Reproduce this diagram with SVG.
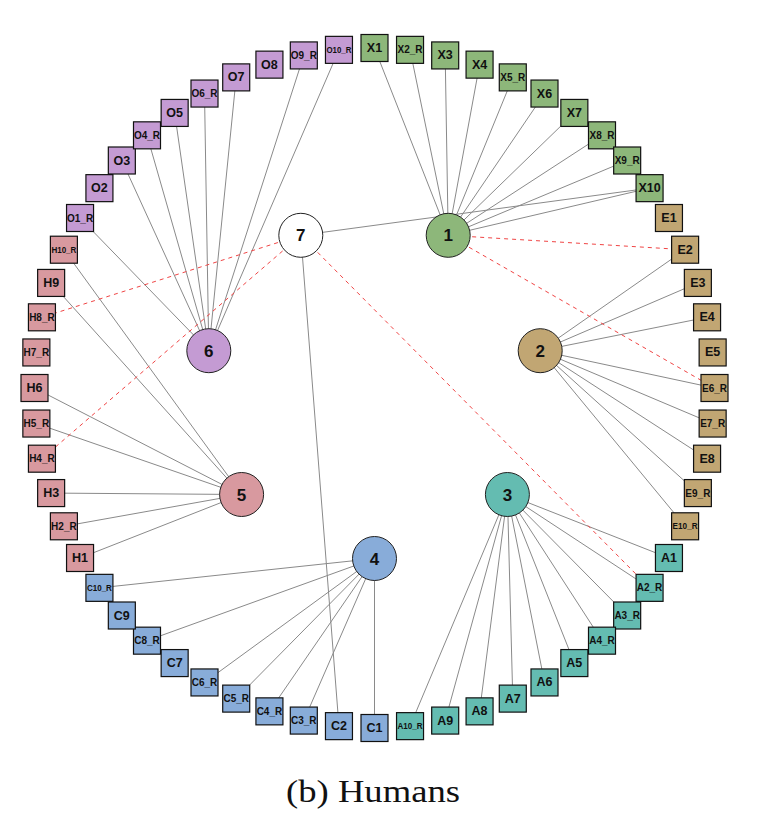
<svg xmlns="http://www.w3.org/2000/svg" width="758" height="818" viewBox="0 0 758 818">
<style>
.bg{fill:#ffffff}
.e{stroke:#8a8a8a;stroke-width:1;fill:none}
.d{stroke:#f04545;stroke-width:1;stroke-dasharray:4 4;fill:none}
.sq{stroke:#111;stroke-width:1.2}
.hub{stroke:#222;stroke-width:1}
.gX{fill:#8db77a}.gE{fill:#c1a673}.gA{fill:#64bcb1}.gC{fill:#88acd9}.gH{fill:#d8999f}.gO{fill:#c49bd3}.gW{fill:#ffffff}
text{font-family:"Liberation Sans",Arial,sans-serif;font-weight:bold;fill:#111;text-anchor:middle;dominant-baseline:central}
.s{font-size:12.5px}.r{font-size:10px}.rr{font-size:9px}.h{font-size:17px}
.cap{font-family:"Liberation Serif","Times New Roman",serif;font-weight:normal;font-size:31px;dominant-baseline:alphabetic}
</style>
<rect class="bg" x="0" y="0" width="758" height="818"/>
<g id="connectors">
<line class="e" x1="448.2" y1="235.3" x2="374.5" y2="48"/>
<line class="e" x1="448.2" y1="235.3" x2="410.04" y2="49.86"/>
<line class="e" x1="448.2" y1="235.3" x2="445.19" y2="55.43"/>
<line class="e" x1="448.2" y1="235.3" x2="479.57" y2="64.64"/>
<line class="e" x1="448.2" y1="235.3" x2="512.79" y2="77.39"/>
<line class="e" x1="448.2" y1="235.3" x2="544.5" y2="93.55"/>
<line class="e" x1="448.2" y1="235.3" x2="574.35" y2="112.93"/>
<line class="e" x1="448.2" y1="235.3" x2="602" y2="135.33"/>
<line class="e" x1="448.2" y1="235.3" x2="627.17" y2="160.5"/>
<line class="e" x1="448.2" y1="235.3" x2="649.57" y2="188.15"/>
<line class="e" x1="540.2" y1="350.7" x2="685.11" y2="249.71"/>
<line class="e" x1="540.2" y1="350.7" x2="697.86" y2="282.93"/>
<line class="e" x1="540.2" y1="350.7" x2="707.07" y2="317.31"/>
<line class="e" x1="540.2" y1="350.7" x2="714.5" y2="388"/>
<line class="e" x1="540.2" y1="350.7" x2="712.64" y2="423.54"/>
<line class="e" x1="540.2" y1="350.7" x2="707.07" y2="458.69"/>
<line class="e" x1="540.2" y1="350.7" x2="697.86" y2="493.07"/>
<line class="e" x1="540.2" y1="350.7" x2="685.11" y2="526.29"/>
<line class="e" x1="507.4" y1="494.5" x2="668.95" y2="558"/>
<line class="e" x1="507.4" y1="494.5" x2="649.57" y2="587.85"/>
<line class="e" x1="507.4" y1="494.5" x2="627.17" y2="615.5"/>
<line class="e" x1="507.4" y1="494.5" x2="602" y2="640.67"/>
<line class="e" x1="507.4" y1="494.5" x2="574.35" y2="663.07"/>
<line class="e" x1="507.4" y1="494.5" x2="544.5" y2="682.45"/>
<line class="e" x1="507.4" y1="494.5" x2="512.79" y2="698.61"/>
<line class="e" x1="507.4" y1="494.5" x2="479.57" y2="711.36"/>
<line class="e" x1="507.4" y1="494.5" x2="445.19" y2="720.57"/>
<line class="e" x1="507.4" y1="494.5" x2="410.04" y2="726.14"/>
<line class="e" x1="374.5" y1="558.5" x2="374.5" y2="728"/>
<line class="e" x1="374.5" y1="558.5" x2="303.81" y2="720.57"/>
<line class="e" x1="374.5" y1="558.5" x2="269.43" y2="711.36"/>
<line class="e" x1="374.5" y1="558.5" x2="236.21" y2="698.61"/>
<line class="e" x1="374.5" y1="558.5" x2="204.5" y2="682.45"/>
<line class="e" x1="374.5" y1="558.5" x2="147" y2="640.67"/>
<line class="e" x1="374.5" y1="558.5" x2="99.43" y2="587.85"/>
<line class="e" x1="241.6" y1="494.5" x2="80.05" y2="558"/>
<line class="e" x1="241.6" y1="494.5" x2="63.89" y2="526.29"/>
<line class="e" x1="241.6" y1="494.5" x2="51.14" y2="493.07"/>
<line class="e" x1="241.6" y1="494.5" x2="36.36" y2="423.54"/>
<line class="e" x1="241.6" y1="494.5" x2="34.5" y2="388"/>
<line class="e" x1="241.6" y1="494.5" x2="51.14" y2="282.93"/>
<line class="e" x1="241.6" y1="494.5" x2="63.89" y2="249.71"/>
<line class="e" x1="208.8" y1="350.7" x2="80.05" y2="218"/>
<line class="e" x1="208.8" y1="350.7" x2="121.83" y2="160.5"/>
<line class="e" x1="208.8" y1="350.7" x2="147" y2="135.33"/>
<line class="e" x1="208.8" y1="350.7" x2="174.65" y2="112.93"/>
<line class="e" x1="208.8" y1="350.7" x2="204.5" y2="93.55"/>
<line class="e" x1="208.8" y1="350.7" x2="236.21" y2="77.39"/>
<line class="e" x1="208.8" y1="350.7" x2="303.81" y2="55.43"/>
<line class="e" x1="208.8" y1="350.7" x2="338.96" y2="49.86"/>
<line class="e" x1="300.8" y1="235.3" x2="649.57" y2="188.15"/>
<line class="e" x1="300.8" y1="235.3" x2="338.96" y2="726.14"/>
<line class="d" x1="448.2" y1="235.3" x2="685.11" y2="249.71"/>
<line class="d" x1="448.2" y1="235.3" x2="714.5" y2="388"/>
<line class="d" x1="300.8" y1="235.3" x2="649.57" y2="587.85"/>
<line class="d" x1="300.8" y1="235.3" x2="41.93" y2="317.31"/>
<line class="d" x1="300.8" y1="235.3" x2="41.93" y2="458.69"/>
</g>
<g id="n-X1"><rect class="sq gX" x="361" y="34.5" width="27" height="27"/><text class="s" x="374.5" y="48">X1</text></g>
<g id="n-X2_R"><rect class="sq gX" x="396.54" y="36.36" width="27" height="27"/><text class="r" x="410.04" y="49.86">X2_R</text></g>
<g id="n-X3"><rect class="sq gX" x="431.69" y="41.93" width="27" height="27"/><text class="s" x="445.19" y="55.43">X3</text></g>
<g id="n-X4"><rect class="sq gX" x="466.07" y="51.14" width="27" height="27"/><text class="s" x="479.57" y="64.64">X4</text></g>
<g id="n-X5_R"><rect class="sq gX" x="499.29" y="63.89" width="27" height="27"/><text class="r" x="512.79" y="77.39">X5_R</text></g>
<g id="n-X6"><rect class="sq gX" x="531" y="80.05" width="27" height="27"/><text class="s" x="544.5" y="93.55">X6</text></g>
<g id="n-X7"><rect class="sq gX" x="560.85" y="99.43" width="27" height="27"/><text class="s" x="574.35" y="112.93">X7</text></g>
<g id="n-X8_R"><rect class="sq gX" x="588.5" y="121.83" width="27" height="27"/><text class="r" x="602" y="135.33">X8_R</text></g>
<g id="n-X9_R"><rect class="sq gX" x="613.67" y="147" width="27" height="27"/><text class="r" x="627.17" y="160.5">X9_R</text></g>
<g id="n-X10"><rect class="sq gX" x="636.07" y="174.65" width="27" height="27"/><text class="s" x="649.57" y="188.15">X10</text></g>
<g id="n-E1"><rect class="sq gE" x="655.45" y="204.5" width="27" height="27"/><text class="s" x="668.95" y="218">E1</text></g>
<g id="n-E2"><rect class="sq gE" x="671.61" y="236.21" width="27" height="27"/><text class="s" x="685.11" y="249.71">E2</text></g>
<g id="n-E3"><rect class="sq gE" x="684.36" y="269.43" width="27" height="27"/><text class="s" x="697.86" y="282.93">E3</text></g>
<g id="n-E4"><rect class="sq gE" x="693.57" y="303.81" width="27" height="27"/><text class="s" x="707.07" y="317.31">E4</text></g>
<g id="n-E5"><rect class="sq gE" x="699.14" y="338.96" width="27" height="27"/><text class="s" x="712.64" y="352.46">E5</text></g>
<g id="n-E6_R"><rect class="sq gE" x="701" y="374.5" width="27" height="27"/><text class="r" x="714.5" y="388">E6_R</text></g>
<g id="n-E7_R"><rect class="sq gE" x="699.14" y="410.04" width="27" height="27"/><text class="r" x="712.64" y="423.54">E7_R</text></g>
<g id="n-E8"><rect class="sq gE" x="693.57" y="445.19" width="27" height="27"/><text class="s" x="707.07" y="458.69">E8</text></g>
<g id="n-E9_R"><rect class="sq gE" x="684.36" y="479.57" width="27" height="27"/><text class="r" x="697.86" y="493.07">E9_R</text></g>
<g id="n-E10_R"><rect class="sq gE" x="671.61" y="512.79" width="27" height="27"/><text class="rr" x="685.11" y="526.29" textLength="25" lengthAdjust="spacingAndGlyphs">E10_R</text></g>
<g id="n-A1"><rect class="sq gA" x="655.45" y="544.5" width="27" height="27"/><text class="s" x="668.95" y="558">A1</text></g>
<g id="n-A2_R"><rect class="sq gA" x="636.07" y="574.35" width="27" height="27"/><text class="r" x="649.57" y="587.85">A2_R</text></g>
<g id="n-A3_R"><rect class="sq gA" x="613.67" y="602" width="27" height="27"/><text class="r" x="627.17" y="615.5">A3_R</text></g>
<g id="n-A4_R"><rect class="sq gA" x="588.5" y="627.17" width="27" height="27"/><text class="r" x="602" y="640.67">A4_R</text></g>
<g id="n-A5"><rect class="sq gA" x="560.85" y="649.57" width="27" height="27"/><text class="s" x="574.35" y="663.07">A5</text></g>
<g id="n-A6"><rect class="sq gA" x="531" y="668.95" width="27" height="27"/><text class="s" x="544.5" y="682.45">A6</text></g>
<g id="n-A7"><rect class="sq gA" x="499.29" y="685.11" width="27" height="27"/><text class="s" x="512.79" y="698.61">A7</text></g>
<g id="n-A8"><rect class="sq gA" x="466.07" y="697.86" width="27" height="27"/><text class="s" x="479.57" y="711.36">A8</text></g>
<g id="n-A9"><rect class="sq gA" x="431.69" y="707.07" width="27" height="27"/><text class="s" x="445.19" y="720.57">A9</text></g>
<g id="n-A10_R"><rect class="sq gA" x="396.54" y="712.64" width="27" height="27"/><text class="rr" x="410.04" y="726.14" textLength="25" lengthAdjust="spacingAndGlyphs">A10_R</text></g>
<g id="n-C1"><rect class="sq gC" x="361" y="714.5" width="27" height="27"/><text class="s" x="374.5" y="728">C1</text></g>
<g id="n-C2"><rect class="sq gC" x="325.46" y="712.64" width="27" height="27"/><text class="s" x="338.96" y="726.14">C2</text></g>
<g id="n-C3_R"><rect class="sq gC" x="290.31" y="707.07" width="27" height="27"/><text class="r" x="303.81" y="720.57">C3_R</text></g>
<g id="n-C4_R"><rect class="sq gC" x="255.93" y="697.86" width="27" height="27"/><text class="r" x="269.43" y="711.36">C4_R</text></g>
<g id="n-C5_R"><rect class="sq gC" x="222.71" y="685.11" width="27" height="27"/><text class="r" x="236.21" y="698.61">C5_R</text></g>
<g id="n-C6_R"><rect class="sq gC" x="191" y="668.95" width="27" height="27"/><text class="r" x="204.5" y="682.45">C6_R</text></g>
<g id="n-C7"><rect class="sq gC" x="161.15" y="649.57" width="27" height="27"/><text class="s" x="174.65" y="663.07">C7</text></g>
<g id="n-C8_R"><rect class="sq gC" x="133.5" y="627.17" width="27" height="27"/><text class="r" x="147" y="640.67">C8_R</text></g>
<g id="n-C9"><rect class="sq gC" x="108.33" y="602" width="27" height="27"/><text class="s" x="121.83" y="615.5">C9</text></g>
<g id="n-C10_R"><rect class="sq gC" x="85.93" y="574.35" width="27" height="27"/><text class="rr" x="99.43" y="587.85" textLength="25" lengthAdjust="spacingAndGlyphs">C10_R</text></g>
<g id="n-H1"><rect class="sq gH" x="66.55" y="544.5" width="27" height="27"/><text class="s" x="80.05" y="558">H1</text></g>
<g id="n-H2_R"><rect class="sq gH" x="50.39" y="512.79" width="27" height="27"/><text class="r" x="63.89" y="526.29">H2_R</text></g>
<g id="n-H3"><rect class="sq gH" x="37.64" y="479.57" width="27" height="27"/><text class="s" x="51.14" y="493.07">H3</text></g>
<g id="n-H4_R"><rect class="sq gH" x="28.43" y="445.19" width="27" height="27"/><text class="r" x="41.93" y="458.69">H4_R</text></g>
<g id="n-H5_R"><rect class="sq gH" x="22.86" y="410.04" width="27" height="27"/><text class="r" x="36.36" y="423.54">H5_R</text></g>
<g id="n-H6"><rect class="sq gH" x="21" y="374.5" width="27" height="27"/><text class="s" x="34.5" y="388">H6</text></g>
<g id="n-H7_R"><rect class="sq gH" x="22.86" y="338.96" width="27" height="27"/><text class="r" x="36.36" y="352.46">H7_R</text></g>
<g id="n-H8_R"><rect class="sq gH" x="28.43" y="303.81" width="27" height="27"/><text class="r" x="41.93" y="317.31">H8_R</text></g>
<g id="n-H9"><rect class="sq gH" x="37.64" y="269.43" width="27" height="27"/><text class="s" x="51.14" y="282.93">H9</text></g>
<g id="n-H10_R"><rect class="sq gH" x="50.39" y="236.21" width="27" height="27"/><text class="rr" x="63.89" y="249.71" textLength="25" lengthAdjust="spacingAndGlyphs">H10_R</text></g>
<g id="n-O1_R"><rect class="sq gO" x="66.55" y="204.5" width="27" height="27"/><text class="r" x="80.05" y="218">O1_R</text></g>
<g id="n-O2"><rect class="sq gO" x="85.93" y="174.65" width="27" height="27"/><text class="s" x="99.43" y="188.15">O2</text></g>
<g id="n-O3"><rect class="sq gO" x="108.33" y="147" width="27" height="27"/><text class="s" x="121.83" y="160.5">O3</text></g>
<g id="n-O4_R"><rect class="sq gO" x="133.5" y="121.83" width="27" height="27"/><text class="r" x="147" y="135.33">O4_R</text></g>
<g id="n-O5"><rect class="sq gO" x="161.15" y="99.43" width="27" height="27"/><text class="s" x="174.65" y="112.93">O5</text></g>
<g id="n-O6_R"><rect class="sq gO" x="191" y="80.05" width="27" height="27"/><text class="r" x="204.5" y="93.55">O6_R</text></g>
<g id="n-O7"><rect class="sq gO" x="222.71" y="63.89" width="27" height="27"/><text class="s" x="236.21" y="77.39">O7</text></g>
<g id="n-O8"><rect class="sq gO" x="255.93" y="51.14" width="27" height="27"/><text class="s" x="269.43" y="64.64">O8</text></g>
<g id="n-O9_R"><rect class="sq gO" x="290.31" y="41.93" width="27" height="27"/><text class="r" x="303.81" y="55.43">O9_R</text></g>
<g id="n-O10_R"><rect class="sq gO" x="325.46" y="36.36" width="27" height="27"/><text class="rr" x="338.96" y="49.86" textLength="25" lengthAdjust="spacingAndGlyphs">O10_R</text></g>
<g id="hub-1"><circle class="hub gX" cx="448.2" cy="235.3" r="22"/><text class="h" x="448.2" y="235.8">1</text></g>
<g id="hub-2"><circle class="hub gE" cx="540.2" cy="350.7" r="22"/><text class="h" x="540.2" y="351.2">2</text></g>
<g id="hub-3"><circle class="hub gA" cx="507.4" cy="494.5" r="22"/><text class="h" x="507.4" y="495">3</text></g>
<g id="hub-4"><circle class="hub gC" cx="374.5" cy="558.5" r="22"/><text class="h" x="374.5" y="559">4</text></g>
<g id="hub-5"><circle class="hub gH" cx="241.6" cy="494.5" r="22"/><text class="h" x="241.6" y="495">5</text></g>
<g id="hub-6"><circle class="hub gO" cx="208.8" cy="350.7" r="22"/><text class="h" x="208.8" y="351.2">6</text></g>
<g id="hub-7"><circle class="hub gW" cx="300.8" cy="235.3" r="22"/><text class="h" x="300.8" y="235.8">7</text></g>
<text class="cap" x="373" y="802" textLength="174" lengthAdjust="spacingAndGlyphs">(b) Humans</text>
</svg>
